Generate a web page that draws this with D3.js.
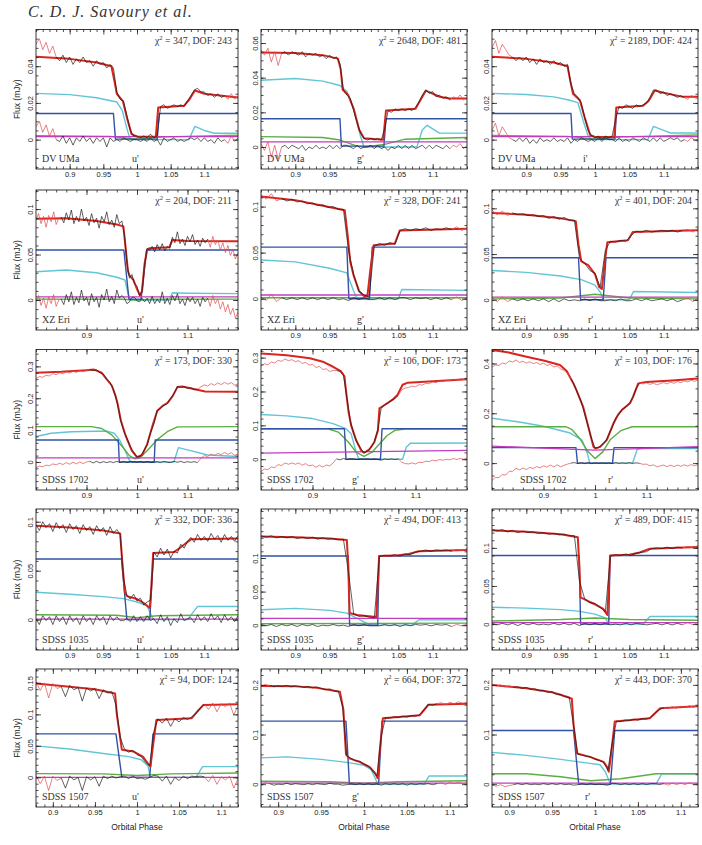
<!DOCTYPE html>
<html>
<head>
    <meta charset="utf-8">
    <title>Eclipse light curve fits</title>
    <script src="https://cdn.jsdelivr.net/npm/d3@7/dist/d3.min.js"></script>
    <style>
        body { margin: 0; background: #fff; }
        svg { display: block; }
        .serif { font-family: "Liberation Serif", "Times New Roman", serif; fill: #333; }
        .axis-title { font-family: "Liberation Sans", Arial, sans-serif; font-size: 8.5px; fill: #222; }
    </style>
</head>
<body>
    <div id="chart"></div>

    <script>
        // ---- panel labels ----
        const names = ["DV UMa", "DV UMa", "DV UMa", "XZ Eri", "XZ Eri", "XZ Eri",
            "SDSS 1702", "SDSS 1702", "SDSS 1702", "SDSS 1035", "SDSS 1035", "SDSS 1035",
            "SDSS 1507", "SDSS 1507", "SDSS 1507"];
        const bands = ["u'", "g'", "i'", "u'", "g'", "r'", "u'", "g'", "r'", "u'", "g'", "r'", "u'", "g'", "r'"];
        const chi2 = [347, 2648, 2189, 204, 328, 401, 173, 106, 103, 332, 494, 489, 94, 664, 443];
        const dof = [243, 481, 424, 211, 241, 204, 330, 173, 176, 336, 413, 415, 124, 372, 370];

        // ---- axes (phase, mJy) ----
        const xDomains = [[0.85, 1.15], [0.85, 1.15], [0.85, 1.15], [0.8, 1.2], [0.85, 1.15], [0.85, 1.15],
            [0.8, 1.2], [0.8, 1.2], [0.8, 1.2], [0.85, 1.15], [0.85, 1.15], [0.85, 1.15],
            [0.88, 1.12], [0.88, 1.12], [0.88, 1.12]];
        const yDomains = [[-0.016, 0.060], [-0.0127, 0.0678], [-0.016, 0.060],
            [-0.033, 0.121], [-0.034, 0.118], [-0.033, 0.120],
            [-0.088, 0.353], [-0.091, 0.324], [-0.108, 0.456],
            [-0.031, 0.113], [-0.037, 0.173], [-0.034, 0.151],
            [-0.047, 0.172], [-0.046, 0.232], [-0.046, 0.232]];
        const xTicksFine = [0.9, 0.95, 1, 1.05, 1.1];
        const xTicksWide = [0.9, 1, 1.1];
        const xTicksGapped = [0.9, 0.95, 1.05, 1.1];
        const xTicks = [xTicksFine, xTicksGapped, xTicksFine, xTicksWide, xTicksFine, xTicksFine,
            xTicksWide, xTicksWide, xTicksWide, xTicksFine, xTicksFine, xTicksFine,
            xTicksFine, xTicksFine, xTicksFine];
        const yTicks = [[0, 0.02, 0.04], [0, 0.02, 0.04, 0.06], [0, 0.02, 0.04],
            [0, 0.05, 0.1], [0, 0.05, 0.1], [0, 0.05, 0.1],
            [0, 0.1, 0.2, 0.3], [0, 0.1, 0.2, 0.3], [0, 0.2, 0.4],
            [0, 0.05, 0.1], [0, 0.05, 0.1], [0, 0.05, 0.1],
            [0, 0.05, 0.1, 0.15], [0, 0.1, 0.2], [0, 0.1, 0.2]];

        // phase range of the data used in each fit (outside it the data are drawn red)
        const fitRanges = [[0.877, 1.133], [0.878, 1.128], [0.878, 1.132], [0.848, 1.142], [0.876, 1.131], [0.876, 1.131],
            [0.903, 1.123], [0.943, 1.07], [0.95, 1.09], [0.85, 1.15], [0.85, 1.131], [0.85, 1.131],
            [0.907, 1.083], [0.888, 1.088], [0.903, 1.082]];

        // ---- model components: [phase, flux in microJy] ----
        const modelCurves = [
            [[0.85,45.2],[0.90,44],[0.94,42],[0.962,40],[0.967,31],[0.970,25],[0.979,21],[0.985,12],[0.992,3],[1.0,1.6],[1.028,1.6],[1.0315,17.5],[1.07,18.5],[1.078,22],[1.086,26.8],[1.10,25],[1.15,23]],
            [[0.85,54.5],[0.90,54.3],[0.94,53],[0.962,51],[0.966,45],[0.969,33],[0.977,30],[0.985,22],[0.993,10],[1.0,5],[1.028,4.2],[1.032,21],[1.075,22],[1.082,27],[1.09,32.5],[1.11,29],[1.125,28],[1.15,28]],
            [[0.85,45.2],[0.90,44],[0.94,42],[0.960,40],[0.964,32],[0.968,25],[0.978,21.5],[0.985,12],[0.993,2.5],[1.0,1.5],[1.028,1.5],[1.031,17.5],[1.07,18.5],[1.078,21],[1.087,26.8],[1.10,25.5],[1.128,23.3],[1.15,23.3]],
            [[0.80,89.5],[0.86,90],[0.92,87],[0.96,83],[0.973,81],[0.977,60],[0.982,32],[0.985,27],[0.993,22],[1.0,12],[1.006,5],[1.010,10],[1.015,40],[1.020,55],[1.025,57],[1.064,58],[1.07,66],[1.10,65],[1.20,64.5]],
            [[0.85,111],[0.90,107],[0.94,101],[0.972,96],[0.976,70],[0.980,40],[0.985,25],[0.993,8],[1.0,3],[1.005,3],[1.009,30],[1.014,58],[1.045,60],[1.052,74],[1.15,76]],
            [[0.85,95],[0.90,93],[0.95,89],[0.972,86],[0.976,60],[0.98,42],[0.99,38],[1.0,28],[1.006,14],[1.01,12],[1.014,40],[1.018,63],[1.048,65],[1.055,74],[1.15,76]],
            [[0.8,280],[0.85,283],[0.90,288],[0.915,290],[0.93,280],[0.95,240],[0.957,210],[0.962,180],[0.968,130],[0.978,80],[0.99,35],[1.0,15],[1.01,22],[1.02,55],[1.03,110],[1.04,160],[1.05,175],[1.06,185],[1.07,205],[1.08,235],[1.09,237],[1.11,230],[1.135,221],[1.2,220]],
            [[0.8,312],[0.85,307],[0.895,298],[0.92,288],[0.94,273],[0.955,260],[0.962,245],[0.966,190],[0.970,140],[0.975,100],[0.985,55],[0.995,25],[1.0,19],[1.01,28],[1.02,50],[1.027,85],[1.030,150],[1.04,160],[1.055,175],[1.065,190],[1.075,220],[1.085,226],[1.2,236]],
            [[0.8,454],[0.83,445],[0.867,427],[0.90,412],[0.932,394],[0.945,370],[0.951,347],[0.958,320],[0.964,293],[0.97,262],[0.977,226],[0.987,146],[0.997,66],[1.001,59],[1.01,65],[1.023,93],[1.036,160],[1.045,195],[1.052,213],[1.068,240],[1.074,267],[1.084,320],[1.10,326],[1.15,332],[1.2,340]],
            [[0.85,96],[0.90,94],[0.95,91],[0.975,88],[0.978,60],[0.982,28],[0.985,24],[1.0,21],[1.01,17],[1.019,12],[1.021,30],[1.024,68],[1.055,69],[1.065,74],[1.08,82],[1.15,83]],
            [[0.85,132],[0.90,131],[0.95,129],[0.975,127],[0.977,90],[0.979,18],[0.99,15],[1.0,14],[1.018,12],[1.02,60],[1.022,103],[1.05,104],[1.065,106],[1.08,110],[1.15,112]],
            [[0.85,123],[0.90,121],[0.95,118],[0.975,114],[0.977,80],[0.979,35],[0.99,30],[1.0,26],[1.012,20],[1.018,12],[1.02,50],[1.022,90],[1.05,91],[1.065,94],[1.08,99],[1.15,101]],
            [[0.88,149],[0.92,144],[0.95,140],[0.974,133],[0.976,100],[0.982,44],[0.996,41],[1.007,33],[1.013,22],[1.016,17],[1.019,50],[1.023,91],[1.065,94],[1.072,105],[1.079,115],[1.12,116]],
            [[0.88,198],[0.92,197],[0.945,194],[0.972,186],[0.976,150],[0.979,60],[0.983,52],[0.995,45],[1.007,34],[1.013,22],[1.016,12],[1.018,60],[1.022,133],[1.065,139],[1.075,160],[1.12,162]],
            [[0.88,200],[0.92,193],[0.95,185],[0.967,176],[0.973,172],[0.975,120],[0.979,62],[0.994,55],[1.01,45],[1.014,35],[1.016,25],[1.018,50],[1.023,126],[1.064,133],[1.07,143],[1.076,153],[1.12,157]]
        ];
        const whiteDwarf = [
            [[0.85,14.2],[0.965,14.2],[0.968,0.3],[1.030,0.3],[1.033,14.2],[1.15,14.2]],
            [[0.85,16.3],[0.965,16.3],[0.967,0.5],[1.029,0.5],[1.032,16.3],[1.15,16.3]],
            [[0.85,14.2],[0.965,14.2],[0.967,0.3],[1.029,0.3],[1.031,14.2],[1.15,14.2]],
            [[0.8,55],[0.974,55],[0.984,1],[1.008,1],[1.019,55],[1.2,55]],
            [[0.85,56],[0.975,56],[0.978,0],[1.008,0],[1.012,56],[1.15,56]],
            [[0.85,46],[0.976,46],[0.979,0],[1.012,0],[1.016,46],[1.15,46]],
            [[0.8,69],[0.963,69],[0.965,0],[1.034,0],[1.036,69],[1.2,69]],
            [[0.8,90],[0.962,90],[0.965,0],[1.032,0],[1.035,90],[1.2,90]],
            [[0.8,62],[0.963,62],[0.966,0],[1.034,0],[1.037,62],[1.2,62]],
            [[0.85,62],[0.977,62],[0.985,0],[1.019,0],[1.024,62],[1.15,62]],
            [[0.85,103],[0.977,103],[0.979,0],[1.02,0],[1.022,103],[1.15,103]],
            [[0.85,90],[0.977,90],[0.979,0],[1.02,0],[1.022,90],[1.15,90]],
            [[0.88,69],[0.975,69],[0.982,0],[1.015,0],[1.019,69],[1.12,69]],
            [[0.88,127],[0.979,127],[0.983,0],[1.017,0],[1.021,127],[1.12,127]],
            [[0.88,108],[0.975,108],[0.981,0],[1.018,0],[1.023,108],[1.12,108]]
        ];
        const brightSpot = [
            [[0.85,25.2],[0.90,24.5],[0.94,22.8],[0.970,20.5],[0.978,16],[0.985,6],[0.99,0],[1.077,0],[1.086,7.2],[1.10,5],[1.115,3.5],[1.15,3.5]],
            [[0.85,38.5],[0.90,39.5],[0.94,38],[0.965,35.5],[0.975,32],[0.985,22],[0.995,6],[1.0,0],[1.077,0],[1.085,10],[1.092,12.5],[1.11,8],[1.15,8]],
            [[0.85,25.2],[0.90,24.6],[0.94,23.3],[0.962,21.6],[0.975,20.2],[0.983,10],[0.99,2],[0.995,0],[1.077,0],[1.085,7.2],[1.10,5],[1.11,3.6],[1.15,3.6]],
            [[0.8,31],[0.86,33],[0.92,30],[0.96,25],[0.976,22],[0.982,8],[0.986,0],[1.064,0],[1.07,8],[1.1,7.5],[1.2,7]],
            [[0.85,42],[0.90,40],[0.95,33],[0.975,28],[0.985,8],[0.99,0],[1.05,0],[1.055,10],[1.15,9]],
            [[0.85,32],[0.9,30],[0.95,26],[0.98,22],[1.0,16],[1.008,8],[1.012,0],[1.05,0],[1.056,9],[1.15,8]],
            [[0.8,80],[0.83,90],[0.87,95],[0.94,97],[0.955,90],[0.965,70],[0.975,40],[0.985,5],[0.99,0],[1.073,0],[1.082,45],[1.10,38],[1.14,22],[1.2,17]],
            [[0.8,132],[0.85,128],[0.9,120],[0.94,105],[0.965,90],[0.975,75],[0.985,20],[0.99,0],[1.075,0],[1.082,35],[1.09,47],[1.2,48]],
            [[0.8,180],[0.85,166],[0.9,148],[0.95,122],[0.975,92],[0.985,40],[0.99,0],[1.073,0],[1.082,55],[1.09,58],[1.2,58]],
            [[0.85,28],[0.90,26],[0.95,23.5],[0.98,21.5],[1.0,18],[1.015,14],[1.024,0],[1.075,0],[1.09,13.5],[1.15,13.5]],
            [[0.85,23],[0.90,25],[0.95,22],[0.975,18],[0.99,10],[1.0,5],[1.01,0],[1.07,0],[1.08,8],[1.15,8]],
            [[0.85,22],[0.90,21],[0.95,19],[0.975,17],[1.0,13],[1.015,8],[1.02,0],[1.07,0],[1.08,10],[1.15,10]],
            [[0.88,50],[0.92,45],[0.96,38],[0.99,33],[1.005,28],[1.013,18],[1.016,0],[1.07,0],[1.078,17],[1.12,17]],
            [[0.88,53],[0.91,55],[0.95,50],[0.98,44],[1.0,38],[1.008,30],[1.013,12],[1.016,0],[1.07,0],[1.076,16.5],[1.12,16.5]],
            [[0.88,64],[0.92,58],[0.96,50],[0.99,43],[1.006,39],[1.012,25],[1.018,0],[1.071,0],[1.078,21],[1.12,21]]
        ];
        const disc = [
            [[0.85,2.2],[0.96,1.8],[1.0,0.2],[1.04,1.5],[1.15,2.4]],
            [[0.85,6],[0.94,5.5],[0.965,4],[0.99,0.5],[1.0,0],[1.03,1.5],[1.06,4.5],[1.15,5.5]],
            [[0.85,2.3],[0.96,1.8],[1.0,0.3],[1.04,1.5],[1.15,2.5]],
            [[0.8,1],[0.97,0.8],[1.0,0],[1.03,0.8],[1.2,1]],
            [[0.85,1],[1.15,1]],
            [[0.85,1],[0.95,2],[1.0,6],[1.05,2],[1.15,1]],
            [[0.8,111],[0.91,111],[0.93,105],[0.95,85],[0.97,50],[0.985,20],[0.995,10],[1.005,12],[1.02,35],[1.04,70],[1.06,95],[1.08,110],[1.2,111]],
            [[0.8,90],[0.93,90],[0.95,80],[0.97,50],[0.985,20],[1.0,8],[1.015,20],[1.03,45],[1.045,70],[1.06,85],[1.08,89],[1.2,90]],
            [[0.8,146],[0.943,146],[0.955,135],[0.97,100],[0.985,50],[1.0,18],[1.015,45],[1.03,95],[1.05,130],[1.072,146],[1.2,146]],
            [[0.85,5],[0.97,4.5],[1.0,2],[1.03,4],[1.15,5]],
            [[0.85,2],[1.15,3]],
            [[0.85,4],[0.95,6],[1.0,8],[1.05,6],[1.15,5]],
            [[0.88,6],[0.96,5.5],[1.0,3],[1.04,5.5],[1.12,7]],
            [[0.88,6],[0.96,5],[1.0,2],[1.04,5],[1.12,7]],
            [[0.88,21],[0.92,21],[0.96,15],[0.995,7],[1.03,11],[1.071,21],[1.12,21]]
        ];
        const donor = [
            [[0.85,1.6],[1.15,1.6]], [[0.85,3],[1.15,3]], [[0.85,1.6],[1.15,1.6]],
            [[0.8,3.5],[1.2,3.5]], [[0.85,4],[1.15,4]], [[0.85,3],[1.15,3]],
            [[0.8,13],[1.2,13]], [[0.8,18],[1.2,26]], [[0.8,68],[1.0,52],[1.2,66]],
            [[0.85,0.5],[1.15,0.5]], [[0.85,10],[1.15,10]], [[0.85,2],[1.15,2]],
            [[0.88,0],[1.12,0]], [[0.88,2],[1.12,2]], [[0.88,2],[1.12,2]]
        ];

        // ---- observed flux (microJy), evenly spaced across each panel's phase range ----
        const observed = [
            [52,55,49,53,47,51,45,43,46,42,45,41,44,42,45,42,43,40,43,41,42,39,41,39,26,22,21,13,5,2,2,1,2,1,3,1,2,18,19,17,18,19,18,19,18,21,24,27,28,26,26,24,25,23,25,23,24,22,25,22,24],
            [56,53,57,49,55,47,54,55,53,55,54,53,55,52,54,53,54,52,53,51,53,51,52,48,33,30,28,21,14,8,5,4,5,4,5,4,10,21,20,22,21,22,21,22,21,23,26,30,33,31,32,29,30,28,29,27,29,28,30,27,29],
            [50,54,47,52,49,46,45,43,45,43,45,42,44,41,44,42,43,41,43,41,42,40,41,30,25,23,20,12,5,2,1,2,0,2,1,2,11,18,17,19,18,17,19,18,19,20,23,27,27,25,26,24,25,24,23,24,23,22,24,23,22],
            [88,95,84,92,80,93,86,97,83,90,91,85,96,88,99,84,92,86,100,87,91,82,95,85,90,79,92,86,97,83,88,80,94,84,87,72,41,24,28,18,15,5,9,38,57,55,59,53,61,55,62,54,59,57,69,63,75,62,67,60,70,64,72,61,66,59,68,63,67,58,70,61,66,55,63,52,60,49,56,45,52],
            [113,108,114,106,109,106,108,105,106,103,104,101,102,99,100,97,97,52,26,8,4,2,57,60,58,61,59,74,76,74,76,75,77,74,76,75,77,75,78,74,77],
            [98,93,97,92,95,93,94,92,93,91,92,89,91,88,90,87,87,45,40,32,29,14,54,64,63,65,64,70,75,74,76,74,75,76,75,76,74,76,77,74,78],
            [262,268,266,272,270,277,274,280,276,283,279,285,281,287,283,288,290,287,289,280,276,260,249,228,192,137,98,75,48,31,16,17,34,53,92,118,162,169,178,183,200,214,237,234,236,231,233,227,228,236,242,238,246,241,248,243,250,244,249,241,245],
            [275,282,279,287,284,292,289,296,291,294,288,291,283,286,278,280,271,274,265,267,259,262,262,259,249,182,113,76,48,32,19,24,35,51,86,150,161,166,174,179,188,205,210,212,216,214,220,219,224,223,228,226,231,230,233,232,236,234,237,236,239],
            [385,394,392,402,398,410,406,414,404,409,401,407,399,404,396,401,392,396,386,390,378,372,360,338,313,277,246,198,148,96,61,62,73,85,114,143,180,197,216,226,241,262,300,320,318,322,316,321,314,319,323,318,325,320,327,323,330,326,332,328,334],
            [97,91,100,94,98,90,99,93,97,89,98,92,96,88,97,91,95,87,96,90,94,86,95,88,92,87,42,25,21,26,19,22,15,18,20,69,64,73,66,72,63,70,68,77,73,80,84,79,87,81,85,80,88,82,86,79,87,81,85,80,86],
            [133,131,133,130,132,130,132,129,131,129,131,128,130,128,129,127,128,78,17,13,14,12,11,102,104,103,105,103,106,105,109,110,112,110,112,111,112,110,113,111,114],
            [124,122,124,121,123,120,122,120,121,119,120,118,119,117,118,116,116,56,33,28,27,22,16,89,91,90,92,90,93,94,95,99,100,99,101,99,101,100,102,100,103],
            [152,138,150,126,149,141,144,128,146,139,143,121,142,137,141,125,139,134,136,115,64,45,40,43,36,33,24,19,73,93,86,94,81,93,88,95,92,96,101,110,116,108,118,104,117,112,118,99,114],
            [196,201,199,196,198,197,199,196,198,197,195,197,194,196,193,190,192,188,187,157,57,52,47,46,40,37,27,16,95,134,133,136,134,137,135,138,137,140,150,161,159,162,164,160,165,162,166,163,165],
            [201,198,200,196,198,195,196,193,195,191,192,188,189,185,186,181,181,176,175,118,60,58,56,55,50,48,44,28,82,127,126,129,128,131,129,132,131,135,144,150,154,152,156,153,157,154,158,155,159]
        ];

        // ---- residuals, observed minus model (microJy), same phase grid ----
        const residuals = [
            [7,10,4,8,2,6,0,-1,2,-2,1,-3,1,-1,2,-1,1,-2,1,-1,1,-4,1,-1,0,-1,1,0,-1,0,0,-1,0,-1,1,-1,0,-3,1,-1,0,1,-1,0,-1,0,1,0,1,-1,1,-1,0,-2,1,-1,0,-2,2,-1,1],
            [2,-2,3,-6,1,-7,0,1,-1,1,0,-1,1,-2,0,-1,1,-1,0,-1,1,-1,1,-1,1,1,0,-1,1,-1,0,0,1,-1,1,-1,0,-2,0,-1,1,-1,1,-1,1,-1,0,1,-1,1,-1,1,0,-1,1,-1,1,0,2,-1,1],
            [5,9,2,7,4,1,0,-1,1,-1,1,-2,0,-2,1,-1,0,-1,1,-1,0,-1,1,-2,0,-1,1,0,-1,0,-1,1,-1,1,0,0,-1,1,-1,0,-1,1,0,-1,1,0,-1,1,-1,1,-1,0,1,0,1,-1,0,-1,1,0,-1],
            [-2,5,-6,2,-9,3,-4,6,-7,0,1,-5,6,-2,9,-5,3,-3,11,-1,3,-6,7,-2,3,-8,6,0,12,-2,4,-4,11,2,5,2,-4,-2,3,3,-1,-2,2,-2,2,-4,4,-4,1,-3,9,-4,2,-5,5,-1,7,-4,1,-6,3,-2,3,-4,1,-7,3,-2,2,-7,5,-4,1,-10,-2,-13,-5,-16,-9,-20,-13],
            [2,-2,5,-3,1,-1,1,-1,1,-1,1,-1,1,-1,1,-1,0,-2,1,-1,1,-1,-1,1,-1,1,-1,1,1,-1,1,0,1,-1,1,-1,1,-1,2,-2,1],
            [3,-2,3,-2,1,-1,1,-1,1,-1,1,-2,1,-2,1,-1,0,-1,1,-1,1,-1,-1,0,-1,1,-1,-1,1,-1,1,-1,0,1,-1,1,-2,0,2,-2,2],
            [-18,-13,-15,-10,-12,-6,-9,-4,-8,-2,-7,-1,-6,0,-5,0,2,-3,2,-3,1,-2,1,-2,2,-2,2,-2,1,1,-1,2,-2,2,-2,-1,1,-2,2,-1,-2,2,-1,2,-2,1,-1,1,-2,12,20,17,25,20,27,23,30,24,29,21,25],
            [-37,-29,-31,-23,-25,-16,-19,-11,-15,-11,-15,-11,-18,-13,-20,-17,-24,-18,-23,-17,-20,-11,1,-2,2,-1,2,1,-1,1,0,1,-1,1,-1,-3,1,-1,1,-1,1,-9,-13,-14,-11,-14,-9,-10,-6,-7,-3,-5,-1,-3,0,-2,2,-1,2,0,3],
            [-69,-58,-58,-46,-48,-33,-33,-21,-27,-20,-26,-17,-22,-14,-19,-11,-16,-8,-15,-7,-15,-9,-4,0,2,-2,2,-2,2,-2,1,-1,1,-1,1,-2,2,-1,1,-1,2,-1,1,-1,-5,-4,-11,-7,-15,-11,-8,-14,-8,-14,-8,-13,-7,-12,-6,-11,-6],
            [1,-5,4,-1,3,-5,4,-2,3,-5,4,-2,2,-5,4,-2,2,-5,4,-1,3,-5,4,-1,3,-1,-1,1,-2,4,-2,3,-2,4,-1,1,-4,5,-2,3,-6,1,-3,6,-1,1,2,-3,5,-1,3,-2,6,0,4,-3,5,-1,3,-2,4],
            [1,-1,1,-2,1,-1,1,-2,1,-1,1,-2,0,-1,1,-1,0,-2,1,-1,1,-1,-1,-1,1,-1,1,-2,1,-1,1,0,1,-1,1,0,1,-2,1,-1,2],
            [1,-1,1,-1,1,-2,1,-1,1,-1,0,-1,1,-1,1,-1,1,-2,1,-1,1,-1,1,-1,0,-1,1,-1,1,0,-1,0,1,-1,1,-1,1,-1,2,-1,2],
            [3,-10,2,-21,2,-5,-1,-17,2,-4,0,-21,1,-4,1,-14,2,-2,2,-1,1,2,-2,2,-2,-1,-3,0,3,2,-6,2,-11,0,-5,2,-2,2,1,2,1,-7,3,-11,1,-4,2,-17,-2],
            [-2,3,1,-2,0,-1,2,-1,1,0,-1,1,-1,1,0,-1,2,0,0,-2,-1,1,-1,1,-1,1,-1,1,-2,1,-1,1,-1,1,-2,1,-1,1,0,1,-1,1,3,-1,4,1,4,1,3],
            [-2,-4,-1,-5,-3,-1,1,-1,1,-1,0,-1,1,-1,1,-1,1,-1,0,-2,-1,1,-1,1,-1,0,-1,-2,2,1,-1,1,-1,1,-1,1,-1,1,1,-1,1,-2,2,-1,2,-1,3,-1,2]
        ];

        // ---- layout ----
        const cols = [[36, 202], [261, 206], [492, 206]];
        const rows = [[29.5, 139.5], [190, 140], [349.5, 140.5], [509, 141], [669, 138]];
        const bandX = [96, 96, 91, 101, 96, 96, 101, 91, 116, 101, 96, 96, 96, 91, 93];
        const nameX = [6, 6, 6, 6, 6, 6, 6, 6, 28, 6, 6, 6, 6, 6, 6];
        const yMinor = [0.005, 0.005, 0.005, 0.01, 0.01, 0.01, 0.02, 0.02, 0.05, 0.01, 0.01, 0.01, 0.01, 0.02, 0.02];

        const colors = {
            model: "#d8261f", dataRed: "#e24a4f", black: "#1c1c1c",
            wd: "#3152a6", spot: "#62c5d6", disc: "#5bae42", donor: "#c03dbf"
        };

        const svg = d3.select('#chart')
            .append('svg')
            .attr('width', 702)
            .attr('height', 845);

        svg.append('text')
            .attr('class', 'serif')
            .attr('x', 28)
            .attr('y', 17)
            .attr('font-size', 16)
            .attr('font-style', 'italic')
            .style('letter-spacing', '1px')
            .text('C. D. J. Savoury et al.');

        function minorValues(domain, step) {
            const k0 = Math.ceil(domain[0] / step - 1e-9), k1 = Math.floor(domain[1] / step + 1e-9);
            return d3.range(k0, k1 + 1).map(function(k) { return +(k * step).toFixed(4); });
        }

        function styleAxis(sel) {
            sel.select('.domain').remove();
            sel.attr('font-family', '"Liberation Sans", Arial, sans-serif')
                .attr('font-size', 7.5)
                .attr('color', '#222');
            sel.selectAll('line').attr('stroke-width', 0.8);
        }

        names.forEach(function(name, i) {
            const r = Math.floor(i / 3), c = i % 3;
            const left = cols[c][0], w = cols[c][1];
            const top = rows[r][0], h = rows[r][1];
            const xd = xDomains[i];

            const g = svg.append('g')
                .attr('transform', 'translate(' + left + ',' + top + ')');

            const x = d3.scaleLinear().domain(xd).range([0, w]);
            const y = d3.scaleLinear().domain(yDomains[i]).range([h, 0]);

            g.append('clipPath').attr('id', 'clip' + i)
                .append('rect').attr('width', w).attr('height', h);
            const plot = g.append('g').attr('clip-path', 'url(#clip' + i + ')');

            const line = d3.line()
                .x(function(d) { return x(d[0]); })
                .y(function(d) { return y(d[1] / 1000); });

            function drawCurve(pts, color, width) {
                plot.append('path')
                    .datum(pts)
                    .attr('fill', 'none')
                    .attr('stroke', color)
                    .attr('stroke-width', width)
                    .attr('stroke-linejoin', 'round')
                    .attr('d', line);
            }

            // light-curve components
            drawCurve(brightSpot[i], colors.spot, 1.4);
            drawCurve(disc[i], colors.disc, 1.4);
            drawCurve(whiteDwarf[i], colors.wd, 1.4);
            drawCurve(donor[i], colors.donor, 1.3);
            drawCurve(modelCurves[i], colors.model, 2);

            // data and residuals: black inside the fitted range, red outside
            function drawNoisy(values) {
                const n = values.length;
                const pts = values.map(function(v, j) {
                    return [xd[0] + j * (xd[1] - xd[0]) / (n - 1), v];
                });
                const fr = fitRanges[i];
                let ia = pts.findIndex(function(p) { return p[0] >= fr[0]; });
                let ib = n - 1;
                while (ib > 0 && pts[ib][0] > fr[1]) ib--;
                const parts = [
                    [pts.slice(0, ia + 1), colors.dataRed],
                    [pts.slice(ib), colors.dataRed],
                    [pts.slice(ia, ib + 1), colors.black]
                ];
                parts.forEach(function(part) {
                    if (part[0].length > 1) drawCurve(part[0], part[1], 0.7);
                });
            }
            drawNoisy(observed[i]);
            drawNoisy(residuals[i]);

            // frame
            g.append('rect')
                .attr('width', w).attr('height', h)
                .attr('fill', 'none')
                .attr('stroke', '#222')
                .attr('stroke-width', 0.9);

            // x axes (ticks point inward)
            const xMinorStep = xTicks[i].length === 3 ? 0.02 : 0.01;
            g.append('g').attr('transform', 'translate(0,' + h + ')')
                .call(d3.axisBottom(x).tickValues(xTicks[i]).tickSize(-5).tickPadding(2.5)
                    .tickFormat(function(d) { return String(d); }))
                .call(styleAxis);
            g.append('g').attr('transform', 'translate(0,' + h + ')')
                .call(d3.axisBottom(x).tickValues(minorValues(xd, xMinorStep)).tickSize(-2.5).tickFormat(''))
                .call(styleAxis);
            g.append('g')
                .call(d3.axisTop(x).tickValues(xTicks[i]).tickSize(-5).tickFormat(''))
                .call(styleAxis);
            g.append('g')
                .call(d3.axisTop(x).tickValues(minorValues(xd, xMinorStep)).tickSize(-2.5).tickFormat(''))
                .call(styleAxis);

            // y axes
            const yl = g.append('g')
                .call(d3.axisLeft(y).tickValues(yTicks[i]).tickSize(-5)
                    .tickFormat(function(d) { return String(d); }))
                .call(styleAxis);
            yl.selectAll('text')
                .attr('x', null).attr('dy', null)
                .attr('text-anchor', 'middle')
                .attr('transform', 'translate(-3.5,0) rotate(-90)');
            g.append('g')
                .call(d3.axisLeft(y).tickValues(minorValues(yDomains[i], yMinor[i])).tickSize(-2.5).tickFormat(''))
                .call(styleAxis);
            g.append('g').attr('transform', 'translate(' + w + ',0)')
                .call(d3.axisRight(y).tickValues(yTicks[i]).tickSize(-5).tickFormat(''))
                .call(styleAxis);
            g.append('g').attr('transform', 'translate(' + w + ',0)')
                .call(d3.axisRight(y).tickValues(minorValues(yDomains[i], yMinor[i])).tickSize(-2.5).tickFormat(''))
                .call(styleAxis);

            // labels
            const chi = g.append('text')
                .attr('class', 'serif')
                .attr('x', w - 6)
                .attr('y', 14)
                .attr('font-size', 9.8)
                .attr('text-anchor', 'end');
            chi.append('tspan').text('\u03c7');
            chi.append('tspan').attr('dy', -4).attr('font-size', 6.5).text('2');
            chi.append('tspan').attr('dy', 4).text(' = ' + chi2[i] + ', DOF: ' + dof[i]);

            g.append('text')
                .attr('class', 'serif')
                .attr('x', nameX[i])
                .attr('y', h - 7)
                .attr('font-size', 10)
                .text(name);

            g.append('text')
                .attr('class', 'serif')
                .attr('x', bandX[i])
                .attr('y', h - 7)
                .attr('font-size', 10)
                .text(bands[i]);

            if (c === 0) {
                svg.append('text')
                    .attr('class', 'axis-title')
                    .attr('transform', 'translate(20,' + (top + h / 2) + ') rotate(-90)')
                    .attr('text-anchor', 'middle')
                    .text('Flux (mJy)');
            }
            if (r === rows.length - 1) {
                svg.append('text')
                    .attr('class', 'axis-title')
                    .attr('x', left + w / 2)
                    .attr('y', 830)
                    .attr('text-anchor', 'middle')
                    .text('Orbital Phase');
            }
        });
    </script>
</body>
</html>
